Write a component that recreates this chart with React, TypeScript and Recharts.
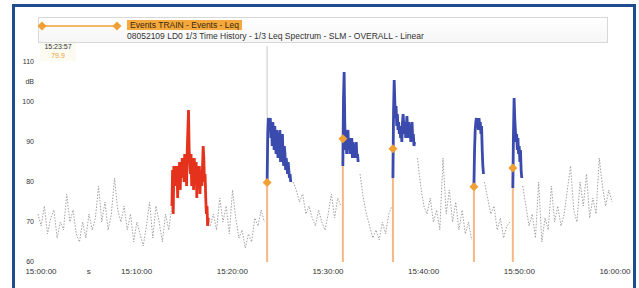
import { ComposedChart, Line, Scatter, XAxis, YAxis, ReferenceLine } from 'recharts'

// x axis is seconds after 15:00:00
const timeTicks = [0, 300, 600, 1200, 1800, 2400, 3000, 3600]
const timeTickLabels = ['15:00:00', 's', '15:10:00', '15:20:00', '15:30:00', '15:40:00', '15:50:00', '16:00:00']
const levelTicks = [60, 70, 80, 90, 100, 105, 110]
const levelTickLabels = ['60', '70', '80', '90', '100', 'dB', '110']

// overall Leq, one value every 20 s (null where an event trace is drawn)
const backgroundStep = 20
const backgroundLevels: (number | null)[] = [
  72, 69, 74, 67, 71, 73, 66, 70,
  68, 77, 70, 73, 67,
  65, 70, 66, 72, 68, 71,
  79, 70, 75, 68,
  72, 81, 73, 70, 74,
  68, 72, 65, 70, 67, 64, 69, 75,
  66, 74, 70, 65, 72, 68,
  74,
  null, null, null, null, null, null, null, null, null, null, null,
  69,
  72, 68, 76, 70, 74, 67, 78, 71,
  66, 68, 63.5, 67, 65, 71, 69,
  73, 70,
  null, null, null, null, null, null, null, null,
  80,
  78, 75, 77, 72, 74, 71,
  69, 73, 70, 68, 72,
  77, 71, 76, 74,
  null, null, null, null, null,
  82, 76, 72, 69, 66, 68,
  65.5, 70, 67, 72, 74,
  null, null, null, null, null, null, null,
  86,
  79, 74, 72, 76, 70,
  73, 68, 86,
  72, 78, 70, 75, 68, 73, 67, 70, 65.5,
  null, null, null,
  80,
  76, 72, 74, 68, 71, 66, 69, 70,
  null, null, null,
  79,
  74, 69, 72, 66, 80, 65,
  71, 68, 79, 70, 74, 69,
  72, 78, 84, 73, 70, 80,
  74, 82, 71, 76, 72,
  86, 79, 74, 78, 75,
]

// event traces, one value every 4 s
const eventStep = 4
const peakStart = 840
const peakLevels = [
  74, 83, 72, 84, 80, 82,
  84, 79, 83, 76, 84, 82, 85, 78, 84, 81, 86,
  83, 86, 80, 87, 82, 85, 79, 88,
  93, 98, 88,
  85, 82, 87, 79, 86, 84, 78, 86, 83, 81, 85, 76, 84, 82, 80, 84, 77, 83, 81, 79,
  84, 89, 86, 80, 82,
  76, 72, 74, 69, 71,
]

const eventStarts = [1437, 1912, 2226, 2734, 2978]
const eventMarkerLevels = [79.9, 90.8, 88.3, 78.8, 83.5]
const event1Levels = [80, 92, 96, 95, 93, 96, 91, 94, 89, 95, 92, 88, 94, 90, 87, 93, 91, 86, 92, 89, 93, 85, 90, 88, 92, 86, 84, 89, 87, 83, 86, 84, 82, 85, 83, 81, 82, 80]
const event2Levels = [84, 101, 107.5, 95, 88, 91, 87, 92, 93, 89, 91, 87, 90, 88, 91, 86, 90, 87, 89, 86, 88, 90, 86, 87, 85]
const event3Levels = [81, 98, 105.5, 100, 96, 99, 94, 97, 93, 95, 92, 94, 91, 93, 90, 95, 97, 94, 92, 95, 91, 94, 96.5, 93, 91, 95, 92, 94, 90, 93, 95, 91, 92, 89, 90]
const event4Levels = [79, 88, 93, 95, 96, 94, 95.5, 93, 96, 94, 95, 92, 94, 88, 84, 82]
const event5Levels = [78.5, 92, 101, 96, 93, 90, 92, 88, 91, 87, 89, 85, 88, 83, 81]

const toRows = (start: number, levels: number[]) =>
  levels.map((level, i) => ({ t: start + i * eventStep, level }))

const backgroundRows = backgroundLevels.map((leq, i) => ({ t: i * backgroundStep, leq }))
const peakRows = toRows(peakStart, peakLevels)
const eventRows = [event1Levels, event2Levels, event3Levels, event4Levels, event5Levels].map((levels, i) =>
  toRows(eventStarts[i], levels)
)
const markerRows = eventStarts.map((t, i) => ({ t, level: eventMarkerLevels[i] }))

const ORANGE = '#f0a035'
const ORANGE_LINE = '#f7b784'
const BLUE = '#3a4bad'
const RED = '#e5321d'

const Diamond = (props: any) => {
  const { cx, cy } = props
  const r = 4.5
  return <polygon points={`${cx},${cy - r} ${cx + r},${cy} ${cx},${cy + r} ${cx - r},${cy}`} fill={ORANGE} />
}

export default function App() {
  return (
    <div
      style={{
        position: 'absolute',
        left: 0,
        top: 0,
        width: 639,
        height: 288,
        background: '#fff',
        overflow: 'hidden',
        fontFamily: '"Liberation Sans", Arial, sans-serif',
      }}
    >
      <div
        style={{
          position: 'absolute',
          left: 12,
          top: 4,
          width: 624,
          height: 320,
          border: '3px solid #1f4c8e',
          boxSizing: 'border-box',
        }}
      />
      {/* legend */}
      <div
        style={{
          position: 'absolute',
          left: 38,
          top: 17,
          width: 570,
          height: 26,
          border: '1px solid #d8d8d8',
          background: 'linear-gradient(#ffffff, #f6f6f6)',
          boxSizing: 'border-box',
        }}
      />
      <svg style={{ position: 'absolute', left: 38, top: 17 }} width={90} height={20}>
        <line x1={4} y1={9} x2={79} y2={9} stroke={ORANGE} strokeWidth={1.5} />
        <polygon points="4,4.5 8.5,9 4,13.5 -0.5,9" fill={ORANGE} />
        <polygon points="79,4.5 83.5,9 79,13.5 74.5,9" fill={ORANGE} />
      </svg>
      <div
        style={{
          position: 'absolute',
          left: 127,
          top: 20,
          fontSize: 8.5,
          lineHeight: '10px',
          background: '#f5a83c',
          color: '#3a2a10',
          padding: '0 3px',
          whiteSpace: 'nowrap',
        }}
      >
        Events TRAIN - Events - Leq
      </div>
      <div
        style={{
          position: 'absolute',
          left: 127,
          top: 31,
          fontSize: 8.5,
          lineHeight: '10px',
          color: '#333',
          whiteSpace: 'nowrap',
        }}
      >
        08052109 LD0 1/3 Time History - 1/3 Leq Spectrum - SLM - OVERALL - Linear
      </div>
      {/* cursor readout */}
      <div
        style={{
          position: 'absolute',
          left: 40,
          top: 43,
          width: 36,
          height: 18,
          background: '#fbfbf2',
          textAlign: 'center',
          fontSize: 7,
          lineHeight: '8.5px',
          color: '#333',
        }}
      >
        <div>15:23:57</div>
        <div style={{ color: ORANGE }}>79.9</div>
      </div>
      <div style={{ position: 'absolute', left: 0, top: 0 }}>
        <ComposedChart width={639} height={288} data={backgroundRows} margin={{ top: 46, right: 27, bottom: 6, left: 0 }}>
          <XAxis
            type="number"
            dataKey="t"
            domain={[0, 3600]}
            ticks={timeTicks}
            interval={0}
            tickFormatter={(v: number) => timeTickLabels[timeTicks.indexOf(v)]}
            axisLine={false}
            tickLine={false}
            tickSize={0}
            tickMargin={6}
            height={20}
            tick={{ fontSize: 8, fill: '#333', dx: 3 }}
          />
          <YAxis
            type="number"
            domain={[60, 114]}
            ticks={levelTicks}
            interval={0}
            allowDataOverflow
            tickFormatter={(v: number) => levelTickLabels[levelTicks.indexOf(v)]}
            axisLine={false}
            tickLine={false}
            tickSize={0}
            tickMargin={4}
            width={38}
            tick={{ fontSize: 7, fill: '#333' }}
          />
          <ReferenceLine x={eventStarts[0]} stroke="#c8c8c8" strokeWidth={1} />
          {markerRows.map((m) => (
            <ReferenceLine
              key={m.t}
              segment={[
                { x: m.t, y: 60 },
                { x: m.t, y: m.level },
              ]}
              stroke={ORANGE_LINE}
              strokeWidth={2}
            />
          ))}
          <Line
            dataKey="leq"
            stroke="#a2a2a2"
            strokeWidth={1}
            strokeDasharray="1.5 1.5"
            dot={false}
            connectNulls={false}
            isAnimationActive={false}
          />
          <Line data={peakRows} dataKey="level" stroke={RED} strokeWidth={2.8} dot={false} isAnimationActive={false} />
          {eventRows.map((rows, i) => (
            <Line
              key={i}
              data={rows}
              dataKey="level"
              stroke={BLUE}
              strokeWidth={2.8}
              dot={false}
              isAnimationActive={false}
            />
          ))}
          <Scatter data={markerRows} dataKey="level" shape={Diamond} isAnimationActive={false} />
        </ComposedChart>
      </div>
    </div>
  )
}
